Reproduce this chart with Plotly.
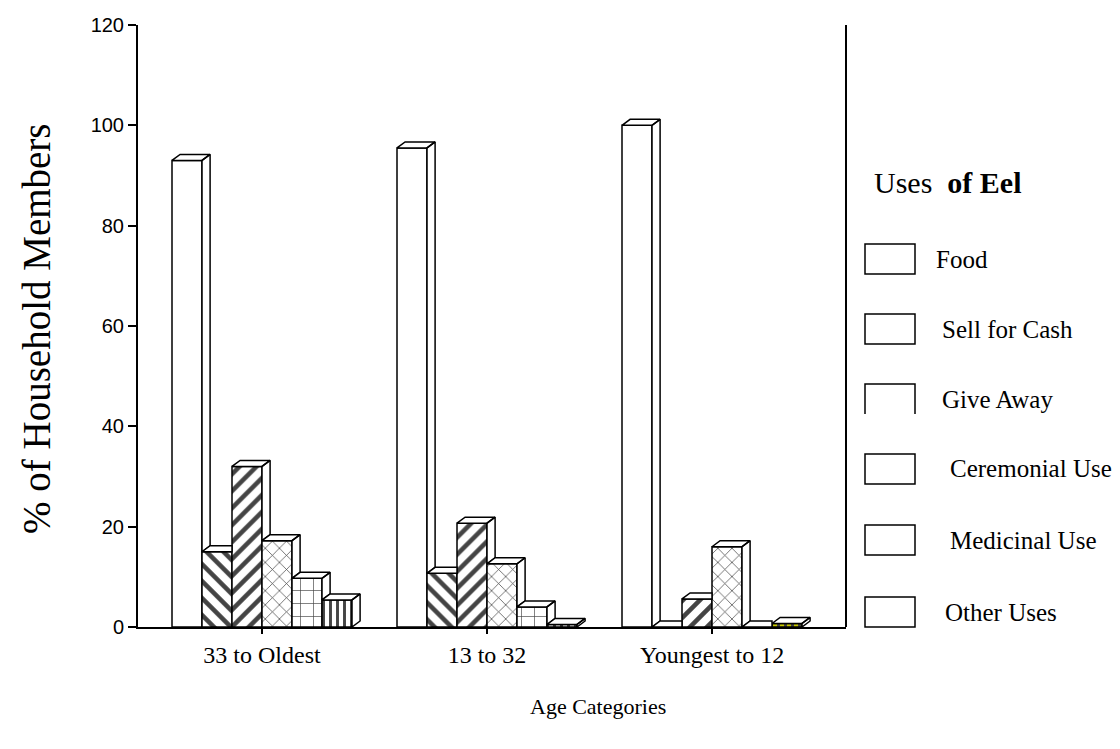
import plotly.graph_objects as go

# Age groups on the x axis
age_groups = ["33 to Oldest", "13 to 32", "Youngest to 12"]

# Percentage of household members reporting each use of eel
uses = ["Food", "Sell for Cash", "Give Away", "Ceremonial Use", "Medicinal Use", "Other Uses"]
food = [93, 95.5, 100]
sell_for_cash = [15, 10.7, 0]
give_away = [32, 20.7, 5.6]
ceremonial = [17.2, 12.6, 16]
medicinal = [9.7, 4, 0]
other_uses = [5.4, 0.5, 0.7]
series = [food, sell_for_cash, give_away, ceremonial, medicinal, other_uses]

# Fill pattern of each series' front face
patterns = [
    None,
    dict(shape="\\", size=12, solidity=0.38),
    dict(shape="/", size=12, solidity=0.38),
    dict(shape="x", size=10, solidity=0.14),
    dict(shape="+", size=13, solidity=0.1),
    dict(shape="|", size=7, solidity=0.42),
]
face_colors = [
    ["white"] * 3,
    ["white"] * 3,
    ["white"] * 3,
    ["white"] * 3,
    ["white"] * 3,
    ["white", "white", "#c8c800"],
]

# Geometry of the grouped bars and their 3-D extrusion (data units)
N = len(series)
BAR_W = 0.8 / N
DEPTH_X = 0.036
DEPTH_Y = 1.2
xpos = list(range(len(age_groups)))

fig = go.Figure()

# Front faces
for k, vals in enumerate(series):
    offset = -0.4 + k * BAR_W
    marker = dict(color=face_colors[k], line=dict(color="black", width=1.5))
    if patterns[k] is not None:
        marker["pattern"] = dict(fgcolor="black", fgopacity=1, fillmode="overlay",
                                 **patterns[k])
    fig.add_trace(go.Bar(
        x=xpos, y=vals, name=uses[k],
        width=BAR_W, offset=offset, marker=marker,
        showlegend=False, hoverinfo="skip",
    ))

# Top and right-side faces, clipped where the neighbouring bar hides them
for k, vals in enumerate(series):
    xs, ys = [], []
    for g, v in enumerate(vals):
        left = xpos[g] - 0.4 + k * BAR_W
        right = left + BAR_W
        nxt = series[k + 1][g] if k + 1 < N else None
        # top face
        if nxt is not None and nxt > v:
            xs += [left, right, right, left + DEPTH_X, left, None]
            ys += [v, v, v + DEPTH_Y, v + DEPTH_Y, v, None]
        else:
            xs += [left, right, right + DEPTH_X, left + DEPTH_X, left, None]
            ys += [v, v, v + DEPTH_Y, v + DEPTH_Y, v, None]
        # side face
        base = 0 if nxt is None else min(nxt, v)
        if v > base:
            xs += [right, right, right + DEPTH_X, right + DEPTH_X, right, None]
            ys += [base, v, v + DEPTH_Y, base + DEPTH_Y, base, None]
    fig.add_trace(go.Scatter(
        x=xs, y=ys, mode="lines", fill="toself", fillcolor="white",
        line=dict(color="black", width=1.5),
        showlegend=False, hoverinfo="skip",
    ))

W, H = 1120, 749
ML, MR, MT, MB = 138, 274, 25, 122
PW, PH = W - ML - MR, H - MT - MB


def px(x):
    return (x - ML) / PW


def py(y):
    return (H - MB - y) / PH


serif = "Liberation Serif"
shapes = [
    # right-hand frame line
    dict(type="line", xref="paper", yref="paper", x0=1, x1=1, y0=0, y1=1,
         line=dict(color="black", width=2)),
]
annotations = [
    dict(text="% of Household Members", xref="paper", yref="paper",
         x=px(36), y=py(329), textangle=-90, showarrow=False,
         xanchor="center", yanchor="middle",
         font=dict(family=serif, size=39, color="black")),
    dict(text="Age Categories", xref="paper", yref="paper",
         x=px(598), y=py(706), showarrow=False,
         xanchor="center", yanchor="middle",
         font=dict(family=serif, size=22, color="black")),
    dict(text="Uses  <b>of Eel</b>", xref="paper", yref="paper",
         x=px(872), y=py(182), xanchor="left", yanchor="middle", showarrow=False,
         font=dict(family=serif, size=30, color="black")),
]

# Legend: empty boxes with labels
legend_y = [259, 329, 399, 469, 540, 612]
legend_tx = [934, 940, 940, 948, 948, 943]
for i, name in enumerate(uses):
    yc = legend_y[i]
    x0, x1 = px(865), px(915)
    y0, y1 = py(yc + 15), py(yc - 15)
    if name == "Give Away":
        shapes.append(dict(type="path", xref="paper", yref="paper",
                           path=f"M {x0},{y0} L {x0},{y1} L {x1},{y1} L {x1},{y0}",
                           line=dict(color="black", width=1.5)))
    else:
        shapes.append(dict(type="rect", xref="paper", yref="paper",
                           x0=x0, x1=x1, y0=y0, y1=y1,
                           line=dict(color="black", width=1.5), fillcolor="white"))
    annotations.append(dict(text=name, xref="paper", yref="paper",
                            x=px(legend_tx[i]), y=py(yc), xanchor="left",
                            yanchor="middle", showarrow=False,
                            font=dict(family=serif, size=25, color="black")))

fig.update_layout(
    width=W, height=H,
    margin=dict(l=ML, r=MR, t=MT, b=MB),
    paper_bgcolor="white", plot_bgcolor="white",
    barmode="overlay",
    shapes=shapes, annotations=annotations,
    xaxis=dict(
        range=[(ML - 262) / 225, (W - MR - 262) / 225],
        tickvals=xpos, ticktext=age_groups,
        ticks="outside", ticklen=5, tickcolor="black", tickwidth=1.5,
        showline=True, linecolor="black", linewidth=2,
        showgrid=False, zeroline=False,
        tickfont=dict(family=serif, size=24, color="black"),
    ),
    yaxis=dict(
        range=[0, 120], tickvals=[0, 20, 40, 60, 80, 100, 120],
        ticks="outside", ticklen=8, tickcolor="black", tickwidth=1.5,
        showline=True, linecolor="black", linewidth=2,
        showgrid=False, zeroline=False,
        tickfont=dict(family="Liberation Sans", size=20, color="black"),
    ),
)

fig.write_html("out.html")
